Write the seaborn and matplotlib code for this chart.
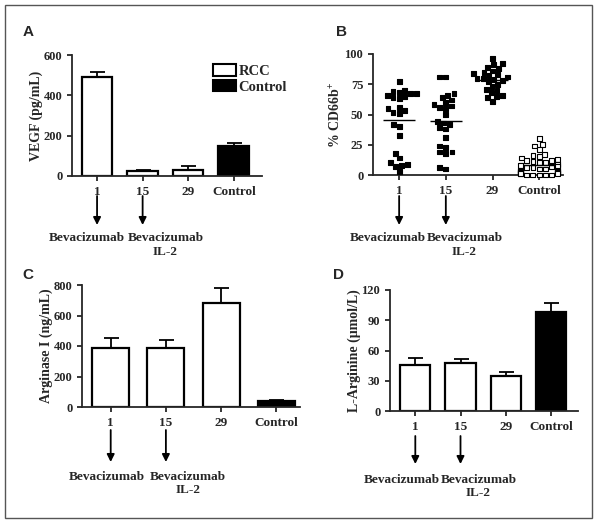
import numpy as np
import pandas as pd
import matplotlib
matplotlib.use("Agg")
import matplotlib.pyplot as plt
from matplotlib.patches import Rectangle
import seaborn as sns

# ---------------- data ----------------
days = ["1", "15", "29", "Control"]
groups = ["RCC", "RCC", "RCC", "Control"]

vegf_mean = [490, 25, 30, 148]
vegf_err = [25, 7, 22, 17]

arginase_mean = [390, 385, 685, 40]
arginase_err = [65, 55, 95, 5]

larginine_mean = [46, 48, 35, 98]
larginine_err = [6.5, 4, 3.5, 9]

cd66b_day1 = [77, 70, 69, 68, 67, 67, 66, 65, 64, 63, 56, 55, 53, 52, 51,
              42, 40, 33, 18, 14, 10, 9, 8, 7, 3]
cd66b_day15 = [81, 81, 67, 66, 64, 62, 60, 58, 57, 56, 55, 50, 44, 43, 42,
               39, 38, 31, 24, 23, 19, 18, 19, 5, 6]
cd66b_day29 = [96, 92, 91, 89, 88, 86, 85, 84, 83, 82, 81, 80, 80, 79, 78,
               77, 75, 73, 71, 70, 68, 66, 65, 64, 61]
cd66b_control = [30, 25, 24, 21, 17, 16, 15, 14, 13, 12, 12, 11, 10, 10, 9,
                 9, 8, 8, 7, 7, 6, 6, 5, 5, 4, 4, 3, 3, 3, 2, 2, 2, 1, 1, 1,
                 0, 0, 0, 0, 0]

# ---------------- style ----------------
sns.set_theme(style="ticks")
plt.rcParams["font.family"] = ["Liberation Serif", "DejaVu Serif"]
plt.rcParams["font.weight"] = "bold"
plt.rcParams["axes.labelweight"] = "bold"
plt.rcParams["mathtext.default"] = "regular"
plt.rcParams["axes.linewidth"] = 1.3
plt.rcParams["xtick.major.width"] = 1.3
plt.rcParams["ytick.major.width"] = 1.3
plt.rcParams["xtick.major.size"] = 3.5
plt.rcParams["ytick.major.size"] = 3.5
plt.rcParams["xtick.labelsize"] = 9.5
plt.rcParams["ytick.labelsize"] = 9
plt.rcParams["axes.labelsize"] = 10

W, H = 600, 526
fig = plt.figure(figsize=(W / 100, H / 100), dpi=100)


def px_axes(left, right, top, bottom):
    return fig.add_axes([left / W, 1 - bottom / H, (right - left) / W, (bottom - top) / H])


axA = px_axes(72, 262, 55, 176)
axB = px_axes(373, 563, 54, 175)
axC = px_axes(82, 300, 285, 407)
axD = px_axes(390, 578, 290, 411)

pal = {"RCC": "white", "Control": "black"}


def bar_panel(ax, means, errs, ylabel, ymax, step, legend=False):
    df = pd.DataFrame({"day": days, "value": means, "group": groups})
    sns.barplot(data=df, x="day", y="value", hue="group", hue_order=["RCC", "Control"],
                palette=pal, dodge=False, width=0.67, edgecolor="black",
                linewidth=1.6, errorbar=None, ax=ax, legend=legend)
    ax.errorbar(x=np.arange(len(days)), y=means,
                yerr=[np.zeros(len(errs)), errs], fmt="none", ecolor="black",
                elinewidth=1.3, capsize=5.4, capthick=1.3, zorder=1)
    ax.set_ylim(0, ymax)
    ax.set_yticks(np.arange(0, ymax + 1, step))
    ax.set_ylabel(ylabel, labelpad=0.5)
    ax.set_xlabel("")
    sns.despine(ax=ax)


bar_panel(axA, vegf_mean, vegf_err, "VEGF (pg/mL)", 600, 200, legend=True)
axA.set_xlim(-0.55, 3.62)
leg = axA.legend(loc="upper left", bbox_to_anchor=(0.71, 0.97), frameon=False,
                 handlelength=1.6, handleheight=0.8, handletextpad=0.15,
                 labelspacing=0.12, borderaxespad=0, prop={"size": 10.5, "weight": "bold"})
for h in leg.legend_handles:
    h.set_edgecolor("black")
    h.set_linewidth(1.5)

bar_panel(axC, arginase_mean, arginase_err, "Arginase I (ng/mL)", 800, 200)
axC.set_xlim(-0.52, 3.43)

bar_panel(axD, larginine_mean, larginine_err, "L-Arginine (\u03bcmol/L)", 120, 30)
axD.set_xlim(-0.56, 3.6)

# ---------------- panel B ----------------
vals = [cd66b_day1, cd66b_day15, cd66b_day29, cd66b_control]
dfB = pd.DataFrame({
    "day": sum([[d] * len(v) for d, v in zip(days, vals)], []),
    "value": sum(vals, []),
    "group": sum([[g] * len(v) for g, v in zip(groups, vals)], []),
})
sns.swarmplot(data=dfB, x="day", y="value", hue="group", hue_order=["RCC", "Control"],
              palette={"RCC": "black", "Control": "white"}, marker="s", size=3.5,
              edgecolor="black", linewidth=0.8, order=days, ax=axB, legend=False,
              clip_on=False, warn_thresh=1)
means = [np.mean(v) for v in vals]
axB.hlines(means, np.arange(4) - 0.34, np.arange(4) + 0.34, color="black", lw=1, zorder=5)
axB.set_ylim(0, 100)
axB.set_yticks([0, 25, 50, 75, 100])
axB.set_xlim(-0.56, 3.51)
axB.set_ylabel("% CD66b$^{+}$", labelpad=0.5)
axB.set_xlabel("")
sns.despine(ax=axB)

# ---------------- arrows & treatment labels ----------------
def treatments(ax, y0, y1, yt1, yt2, off1, off2):
    for x in (0, 1):
        ax.annotate("", xy=(x, 1 - y1 / H), xytext=(x, 1 - y0 / H),
                    xycoords=("data", "figure fraction"),
                    textcoords=("data", "figure fraction"), annotation_clip=False,
                    arrowprops=dict(arrowstyle="-|>", color="black", lw=1.3,
                                    mutation_scale=11, shrinkA=0, shrinkB=0))
    kw = dict(xycoords=("data", "figure fraction"), ha="center", va="center",
              fontsize=9.5, fontweight="bold", annotation_clip=False)
    ax.annotate("Bevacizumab", xy=(0 + off1, 1 - yt1 / H), **kw)
    ax.annotate("Bevacizumab", xy=(1 + off2, 1 - yt1 / H), **kw)
    ax.annotate("IL-2", xy=(1 + off2, 1 - yt2 / H), **kw)


treatments(axA, 196, 225, 238, 252, -0.22, 0.5)
treatments(axB, 196, 225, 238, 252, -0.24, 0.4)
treatments(axC, 430, 462, 477, 490, -0.07, 0.4)
treatments(axD, 436, 464, 480, 493, -0.3, 0.4)

# ---------------- panel letters ----------------
for lab, x, y in [("A", 28, 32), ("B", 342, 32), ("C", 28, 275), ("D", 338, 275)]:
    fig.text(x / W, 1 - y / H, lab, fontsize=11, fontweight="bold",
             family=["Liberation Sans", "DejaVu Sans"], ha="center", va="center")

fig.add_artist(Rectangle((5 / W, 8 / H), 587 / W, 513 / H, transform=fig.transFigure,
                         fill=False, edgecolor="#555555", lw=1))

fig.savefig("out.png", dpi=100)
